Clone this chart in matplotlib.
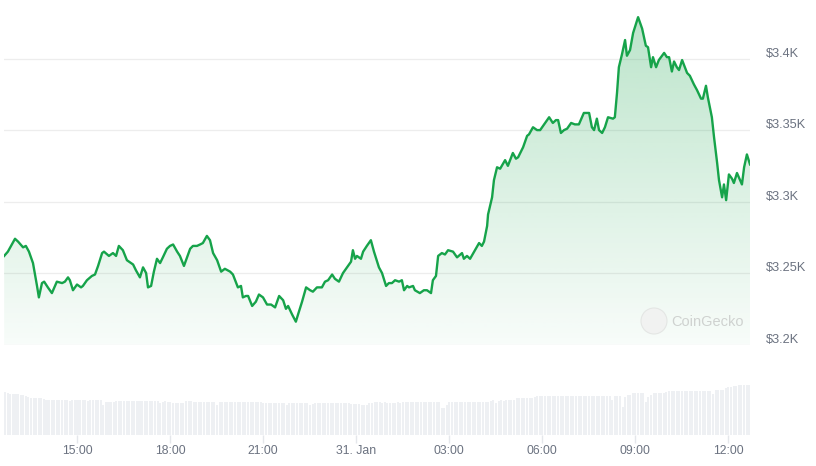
import numpy as np
import matplotlib
matplotlib.use("Agg")
import matplotlib.pyplot as plt
import matplotlib.transforms as mtransforms
from matplotlib.patches import Ellipse

plt.rcParams['font.family'] = ['Liberation Sans', 'DejaVu Sans']

# ETH price, 24h view (time = hours since 00:00 on 30 Jan)
times = [12.65, 12.77, 13.00, 13.10, 13.26, 13.35, 13.45, 13.58, 13.71, 13.77,
         13.87, 13.94, 14.06, 14.19, 14.35, 14.52, 14.61, 14.71, 14.77, 14.87,
         15.00, 15.13, 15.19, 15.32, 15.48, 15.58, 15.68, 15.81, 15.87, 16.03,
         16.16, 16.26, 16.35, 16.48, 16.61, 16.81, 16.90, 17.03, 17.13, 17.23,
         17.29, 17.39, 17.48, 17.58, 17.68, 17.77, 17.90, 18.00, 18.10, 18.23,
         18.32, 18.45, 18.55, 18.65, 18.74, 18.87, 18.97, 19.06, 19.19, 19.29,
         19.39, 19.52, 19.65, 19.77, 19.94, 20.03, 20.19, 20.29, 20.35, 20.45,
         20.52, 20.65, 20.77, 20.87, 21.00, 21.13, 21.26, 21.39, 21.52,
         21.65, 21.74, 21.81, 21.94, 22.06, 22.13, 22.26, 22.39, 22.52, 22.61,
         22.74, 22.90, 23.00, 23.10, 23.23, 23.32, 23.45, 23.58, 23.74, 23.84,
         23.90, 23.97, 24.03, 24.16, 24.23, 24.35, 24.48, 24.58, 24.74, 24.84,
         24.97, 25.06, 25.16, 25.26, 25.39, 25.48, 25.55, 25.65, 25.71, 25.84,
         25.90, 26.06, 26.19, 26.29, 26.42, 26.48, 26.58, 26.65, 26.77, 26.87,
         26.97, 27.13, 27.26, 27.42, 27.48, 27.58, 27.68, 27.84, 27.97, 28.06,
         28.13, 28.23, 28.26, 28.39, 28.45, 28.55, 28.65, 28.81, 28.90, 29.06,
         29.16, 29.23, 29.39, 29.52, 29.58, 29.71, 29.84, 29.94, 30.10, 30.23,
         30.35, 30.45, 30.52, 30.61, 30.71, 30.81, 30.94, 31.06, 31.19, 31.35,
         31.45, 31.52, 31.61, 31.68, 31.77, 31.84, 31.94, 32.03, 32.13, 32.29,
         32.35, 32.42, 32.48, 32.58, 32.68, 32.74, 32.84, 32.94, 33.10, 33.23,
         33.35, 33.42, 33.52, 33.58, 33.68, 33.77, 33.94, 34.03, 34.10, 34.19,
         34.26, 34.35, 34.42, 34.52, 34.68, 34.77, 34.90, 35.00, 35.13, 35.19,
         35.29, 35.35, 35.48, 35.55, 35.65, 35.71, 35.81, 35.87, 35.94, 36.03,
         36.13, 36.19, 36.29, 36.35, 36.45, 36.52, 36.61, 36.71]

prices = [3262, 3265, 3274, 3272, 3268, 3269, 3265, 3257, 3241, 3233,
          3243, 3244, 3240, 3236, 3244, 3243, 3244, 3247, 3245, 3238,
          3242, 3240, 3241, 3245, 3248, 3249, 3255, 3264, 3265, 3262,
          3264, 3262, 3269, 3266, 3259, 3256, 3252, 3247, 3254, 3250,
          3240, 3241, 3251, 3260, 3257, 3261, 3267, 3269, 3270, 3265,
          3262, 3255, 3261, 3267, 3269, 3269, 3270, 3271, 3276, 3273,
          3264, 3259, 3251, 3253, 3251, 3249, 3240, 3241, 3233, 3234,
          3234, 3227, 3230, 3235, 3233, 3228, 3228, 3226, 3234,
          3231, 3225, 3227, 3221, 3216, 3221, 3230, 3240, 3238, 3237,
          3240, 3240, 3244, 3245, 3249, 3246, 3244, 3250, 3255, 3258,
          3266, 3260, 3262, 3260, 3265, 3269, 3273, 3265, 3254, 3250,
          3241, 3243, 3243, 3245, 3244, 3245, 3238, 3241, 3240, 3241,
          3238, 3236, 3238, 3238, 3236, 3245, 3248, 3262, 3264, 3263,
          3266, 3265, 3261, 3264, 3260, 3262, 3260, 3266, 3271, 3269,
          3272, 3283, 3291, 3303, 3315, 3324, 3323, 3329, 3325, 3334,
          3330, 3331, 3338, 3346, 3347, 3352, 3350, 3350, 3355, 3359,
          3355, 3357, 3357, 3348, 3350, 3351, 3355, 3354, 3354, 3362,
          3362, 3362, 3352, 3350, 3358, 3350, 3348, 3352, 3359, 3358,
          3359, 3376, 3394, 3403, 3413, 3402, 3406, 3418, 3429, 3421,
          3409, 3408, 3394, 3401, 3394, 3399, 3404, 3401, 3401, 3391,
          3398, 3394, 3392, 3399, 3390, 3388, 3382, 3378, 3372, 3372,
          3381, 3373, 3359, 3345, 3327, 3315, 3303, 3312, 3301, 3319,
          3316, 3313, 3320, 3317, 3312, 3324, 3333, 3326]

# volume bars, one every 5 minutes (relative units)
vol_start = 12.65
vol_step = 5 / 60
volume = [42.7, 42.5, 41.0, 41.2, 41.0, 40.8, 40.0, 39.8, 38.7, 38.5, 37.5, 37.3,
          37.2, 37.0, 36.7, 36.5, 35.5, 35.3, 35.3, 35.2, 35.0, 35.0, 34.8, 34.7,
          34.7, 34.5, 34.7, 34.8, 34.7, 34.6, 34.7, 34.7, 34.5, 34.7, 34.8, 34.7,
          34.6, 34.7, 30.0, 33.2, 33.0, 33.2, 33.3, 33.8, 33.8, 33.7, 33.8, 33.9,
          33.8, 33.7, 33.8, 33.8, 33.6, 33.8, 33.8, 33.9, 33.8, 33.7, 33.8, 33.8,
          32.3, 33.5, 33.8, 33.5, 33.2, 31.7, 31.8, 31.7, 31.7, 31.9, 33.8, 34.0,
          33.8, 33.0, 33.0, 33.1, 33.0, 32.9, 33.0, 33.0, 33.1, 33.0, 30.0, 32.8,
          32.9, 32.8, 32.8, 32.7, 32.8, 32.9, 32.8, 32.8, 32.7, 32.8, 32.8, 32.9,
          32.8, 32.7, 32.8, 32.8, 32.0, 32.1, 32.0, 32.0, 31.9, 32.0, 32.0, 32.1,
          32.0, 30.0, 32.3, 32.2, 32.3, 32.2, 32.0, 31.7, 31.7, 31.6, 30.0, 31.5,
          32.2, 32.3, 32.2, 32.1, 32.2, 32.2, 32.3, 32.2, 32.1, 32.2, 32.2, 32.3,
          32.2, 32.2, 31.2, 31.0, 31.1, 31.0, 30.0, 30.2, 30.0, 31.8, 32.5, 33.3,
          33.3, 33.2, 32.5, 32.6, 32.5, 32.4, 32.5, 32.5, 32.6, 32.5, 33.0, 33.0,
          33.1, 33.0, 32.8, 32.8, 32.9, 32.8, 32.7, 32.8, 32.8, 32.9, 32.8, 32.8,
          32.7, 27.0, 27.5, 30.0, 32.7, 32.7, 32.8, 32.7, 32.6, 32.7, 32.7, 32.8,
          33.0, 33.1, 33.0, 33.2, 33.3, 33.2, 33.4, 33.5, 34.5, 34.6, 31.7, 34.5,
          34.6, 34.5, 34.7, 35.0, 35.0, 35.1, 36.7, 36.6, 36.7, 36.8, 36.7, 36.7,
          36.9, 38.3, 39.0, 39.1, 39.0, 38.9, 39.0, 39.0, 39.1, 39.0, 38.8, 39.0,
          39.0, 39.1, 39.0, 38.9, 39.0, 39.0, 39.1, 39.0, 39.0, 38.9, 39.0, 39.1,
          39.0, 39.3, 39.3, 39.4, 39.3, 39.3, 39.2, 35.0, 39.0, 39.1, 39.0, 28.3,
          38.3, 40.0, 40.2, 41.7, 41.7, 41.8, 41.6, 41.7, 33.3, 38.3, 40.5, 42.0,
          42.1, 42.0, 42.2, 42.0, 43.5, 43.7, 43.6, 43.7, 43.8, 43.7, 44.3, 44.3,
          44.4, 44.3, 44.2, 44.3, 44.3, 44.4, 44.3, 44.3, 44.2, 44.3, 41.0, 45.0,
          45.3, 45.4, 45.3, 47.5, 48.3, 48.5, 48.7, 49.5, 50.0, 50.0, 50.2, 50.0,
          50.3]

price_ticks = [3200, 3250, 3300, 3350, 3400]
price_labels = ['$3.2K', '$3.25K', '$3.3K', '$3.35K', '$3.4K']
time_ticks = [15, 18, 21, 24, 27, 30, 33, 36]
time_labels = ['15:00', '18:00', '21:00', '31. Jan', '03:00', '06:00', '09:00', '12:00']

green = '#16a34a'
text_gray = '#6b7280'
x_lo, x_hi = 12.645, 36.71
y_lo, y_hi = 3200, 3441

fig = plt.figure(figsize=(8.16, 4.66), dpi=100)
ax = fig.add_axes([4 / 816, 121 / 466, 746 / 816, 345 / 466])
axv = fig.add_axes([4 / 816, 31 / 466, 746 / 816, 75 / 466])

# price line with gradient fill under it
ax.plot(times, prices, color=green, lw=1.7, zorder=3, solid_joinstyle='round')
poly = ax.fill_between(times, prices, y_lo, facecolor='none', edgecolor='none')
grad = np.zeros((256, 1, 4))
grad[:, 0, :3] = matplotlib.colors.to_rgb(green)
grad[:, 0, 3] = np.linspace(0.30, 0.03, 256)
img = ax.imshow(grad, aspect='auto', extent=[x_lo, x_hi, y_lo, y_hi],
                origin='upper', zorder=2, interpolation='bilinear')
img.set_clip_path(poly.get_paths()[0], ax.transData)

ax.set_xlim(x_lo, x_hi)
ax.set_ylim(y_lo - 0.3, y_hi)
ax.set_yticks(price_ticks)
ax.set_yticklabels([])
ax.set_xticks([])
ax.grid(axis='y', color='#ededed', lw=0.9, zorder=0)
ax.tick_params(axis='y', length=0)
for s in ax.spines.values():
    s.set_visible(False)
ax.patch.set_alpha(0)

lbl_tr = mtransforms.offset_copy(ax.get_yaxis_transform(), fig=fig, x=0, y=5, units='dots')
for v, lab in zip(price_ticks, price_labels):
    ax.text(1 + 16 / 746, v, lab, transform=lbl_tr, ha='left', va='center',
            fontsize=9.2, color=text_gray)

# volume bars
vol_times = vol_start + np.arange(len(volume)) * vol_step
axv.bar(vol_times, volume, width=vol_step * 0.78, color='#eef0f3', align='edge')
axv.set_xlim(x_lo, x_hi)
axv.set_ylim(0, 75)
axv.set_yticks([])
axv.set_xticks(time_ticks)
axv.set_xticklabels(time_labels)
axv.tick_params(axis='x', length=6, width=1, color='#e5e7eb', pad=1.5,
                labelsize=8.8, labelcolor=text_gray)
for s in axv.spines.values():
    s.set_visible(False)
axv.patch.set_alpha(0)

# watermark
fig.patches.append(Ellipse((654 / 816, 1 - 321 / 466), 26 / 816, 26 / 466,
                           transform=fig.transFigure, facecolor='#f1f2f1',
                           edgecolor='#e4e6e4', lw=0.8, zorder=5))
fig.text(671 / 816, 1 - 322 / 466, 'CoinGecko', fontsize=10.5, color='#cfd2d0',
         ha='left', va='center', zorder=6)

fig.savefig('out.png', dpi=100)
